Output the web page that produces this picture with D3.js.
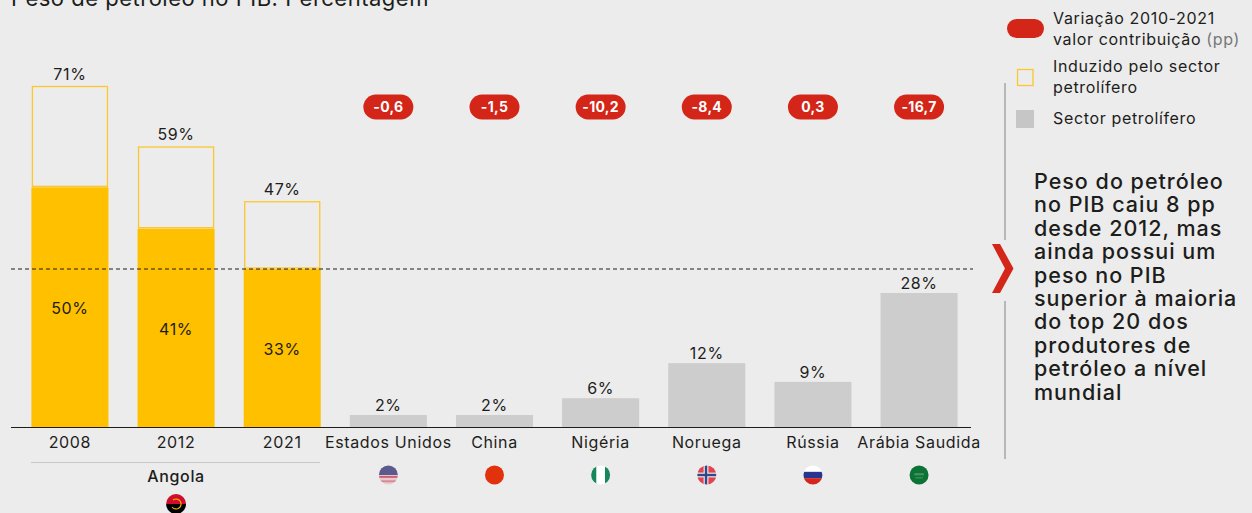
<!DOCTYPE html>
<html lang="pt">
<head>
<meta charset="utf-8">
<script src="https://cdn.jsdelivr.net/npm/d3@7"></script>
<style>
  html, body { margin: 0; padding: 0; background: #ececec; overflow: hidden; }
  svg { display: block; }
  text { font-family: Inter, sans-serif; fill: #1d1d1b; font-size: 16px; letter-spacing: 0.65px; }
</style>
</head>
<body>
<svg id="chart" width="1252" height="513"></svg>
<script>
const categories = ['2008', '2012', '2021', 'Estados Unidos', 'China', 'Nigéria', 'Noruega', 'Rússia', 'Arábia Saudida'];
const sectorValues = [50, 41.4, 33, 2.6, 2.6, 6.1, 13.4, 9.5, 28];
const sectorLabels = ['50%', '41%', '33%', '2%', '2%', '6%', '12%', '9%', '28%'];
const totalValues = [71, 58.4, 47];
const totalLabels = ['71%', '59%', '47%'];
const changeCountries = ['Estados Unidos', 'China', 'Nigéria', 'Noruega', 'Rússia', 'Arábia Saudida'];
const changeLabels = ['-0,6', '-1,5', '-10,2', '-8,4', '0,3', '-16,7'];
const referenceValue = 33;
const calloutLines = ['Peso do petróleo', 'no PIB caiu 8 pp', 'desde 2012, mas', 'ainda possui um', 'peso no PIB', 'superior à maioria', 'do top 20 dos', 'produtores de', 'petróleo a nível', 'mundial'];

const YELLOW = '#ffc000', GREY = '#cdcdcd', RED = '#d32518';
const svg = d3.select('#chart');
const defs = svg.append('defs');
defs.append('filter').attr('id', 'soft').append('feGaussianBlur').attr('stdDeviation', 0.45);

const x = d3.scaleBand().domain(categories).range([31.4, 957.6]).paddingInner(0.274).paddingOuter(0);
const y = d3.scaleLinear().domain([0, 71]).range([427.5, 86.5]);
const isAngola = (_, i) => i < 3;

/* ---- title (cut by the top edge, as in the source) ---- */
svg.append('text').attr('x', 11).attr('y', 6)
  .style('font-size', '22px').style('letter-spacing', '0.5px').text('Peso de petróleo no PIB. Percentagem');

/* ---- bars ---- */
svg.append('g').selectAll('rect').data(sectorValues).join('rect')
  .attr('x', (_, i) => x(categories[i]))
  .attr('y', (d) => y(d))
  .attr('width', x.bandwidth())
  .attr('height', (d) => y(0) - y(d))
  .attr('fill', (d, i) => isAngola(d, i) ? YELLOW : GREY);

// Induced part: outlined box sitting on the sector bar
svg.append('g').selectAll('rect').data(totalValues).join('rect')
  .attr('x', (_, i) => x(categories[i]) + 1)
  .attr('y', (d) => y(d))
  .attr('width', x.bandwidth() - 2)
  .attr('height', (d, i) => y(sectorValues[i]) - y(d) - 1)
  .attr('fill', 'none')
  .attr('stroke', '#fcc72c')
  .attr('stroke-width', 1.3);

/* ---- value labels ---- */
svg.append('g').selectAll('text').data(totalLabels).join('text')
  .attr('x', (_, i) => x(categories[i]) + x.bandwidth() / 2)
  .attr('y', (_, i) => y(totalValues[i]) - 7)
  .attr('text-anchor', 'middle').text((d) => d);

svg.append('g').selectAll('text').data(sectorLabels).join('text')
  .attr('x', (_, i) => x(categories[i]) + x.bandwidth() / 2)
  .attr('y', (_, i) => i < 3 ? (y(sectorValues[i]) + y(0)) / 2 + 7 : y(sectorValues[i]) - 4)
  .attr('text-anchor', 'middle').text((d) => d);

/* ---- baseline and reference line ---- */
svg.append('line').attr('x1', 11).attr('x2', 971).attr('y1', y(0)).attr('y2', y(0))
  .attr('stroke', '#1d1d1b').attr('stroke-width', 1);
svg.append('line').attr('x1', 11).attr('x2', 973).attr('y1', y(referenceValue)).attr('y2', y(referenceValue))
  .attr('stroke', '#1d1d1b').attr('stroke-width', 1).attr('stroke-dasharray', '4 3');

/* ---- category labels ---- */
svg.append('g').selectAll('text').data(categories).join('text')
  .attr('x', (d) => x(d) + x.bandwidth() / 2)
  .attr('y', 448)
  .attr('text-anchor', 'middle').text((d) => d);

svg.append('line').attr('x1', 31).attr('x2', 320).attr('y1', 462.5).attr('y2', 462.5)
  .attr('stroke', '#c8c8c8');
svg.append('text').attr('x', x('2012') + x.bandwidth() / 2).attr('y', 482)
  .attr('text-anchor', 'middle').style('font-weight', 500).text('Angola');

/* ---- change pills ---- */
const pills = svg.append('g').selectAll('g').data(changeLabels).join('g')
  .attr('transform', (_, i) => `translate(${x(changeCountries[i]) + x.bandwidth() / 2},107)`);
pills.append('rect').attr('x', -25).attr('y', -12.5).attr('width', 50).attr('height', 25).attr('rx', 12.5).attr('fill', RED);
pills.append('text').attr('y', 5).attr('text-anchor', 'middle')
  .style('font-size', '14px').style('letter-spacing', '0.3px').style('font-weight', 700).style('fill', '#fff').text((d) => d);

/* ---- flags ---- */
function flag(id, cx, cy, r, paint) {
  defs.append('clipPath').attr('id', id).append('circle').attr('cx', r).attr('cy', r).attr('r', r);
  const g = svg.append('g').attr('transform', `translate(${cx - r},${cy - r})`).attr('clip-path', `url(#${id})`);
  const inner = g.append('g').attr('filter', 'url(#soft)');
  const band = (bx, by, w, h, c) => inner.append('rect').attr('x', bx).attr('y', by).attr('width', w).attr('height', h).attr('fill', c);
  paint(band, inner, r * 2);
}
const flagX = (name) => x(name) + x.bandwidth() / 2;

flag('f-ao', flagX('2012'), 504, 10, (b, g, s) => {
  b(-2, -2, s + 4, s / 2 + 2, '#d0112b'); b(-2, s / 2, s + 4, s / 2 + 2, '#000');
  g.append('path').attr('d', 'M7 6A5 5 0 1 1 6 13').attr('fill', 'none').attr('stroke', '#f5b400').attr('stroke-width', 1.2);
});
flag('f-us', flagX('Estados Unidos'), 475, 9.5, (b, g, s) => {
  b(-2, -2, s + 4, s + 4, '#e9c9cf'); b(-2, -2, s + 4, s * 0.5 + 2, '#5a5a8e');
  b(-2, s * 0.55, s + 4, s * 0.1, '#c9606f'); b(-2, s * 0.78, s + 4, s * 0.1, '#d48a96');
});
flag('f-cn', flagX('China'), 475, 9.5, (b, g, s) => b(-2, -2, s + 4, s + 4, '#e2300f'));
flag('f-ng', flagX('Nigéria'), 475, 9.5, (b, g, s) => {
  b(-2, -2, s + 4, s + 4, '#fff'); b(-2, -2, s * 0.27 + 2, s + 4, '#16875a'); b(s * 0.73, -2, s * 0.27 + 2, s + 4, '#16875a');
});
flag('f-no', flagX('Noruega'), 475, 9.5, (b, g, s) => {
  b(-2, -2, s + 4, s + 4, '#e3434f');
  b(s * 0.33, -2, s * 0.26, s + 4, '#e6d6dc'); b(-2, s * 0.37, s + 4, s * 0.26, '#e6d6dc');
  b(s * 0.4, -2, s * 0.12, s + 4, '#2d4a8c'); b(-2, s * 0.44, s + 4, s * 0.12, '#2d4a8c');
});
flag('f-ru', flagX('Rússia'), 475, 9.5, (b, g, s) => {
  b(-2, -2, s + 4, s / 3 + 2, '#fff'); b(-2, s / 3, s + 4, s / 3, '#27358f'); b(-2, 2 * s / 3, s + 4, s / 3 + 2, '#d3281c');
});
flag('f-sa', flagX('Arábia Saudida'), 475, 9.5, (b, g, s) => {
  b(-2, -2, s + 4, s + 4, '#0b7236'); b(s * 0.25, s * 0.4, s * 0.5, s * 0.12, '#3f9461'); b(s * 0.3, s * 0.62, s * 0.4, s * 0.06, '#3f9461');
});

/* ---- legend ---- */
svg.append('rect').attr('x', 1007).attr('y', 19).attr('width', 37).attr('height', 19).attr('rx', 9.5).attr('fill', RED);
svg.append('rect').attr('x', 1017.5).attr('y', 69.5).attr('width', 15.5).attr('height', 16).attr('fill', 'none').attr('stroke', '#fcc72c').attr('stroke-width', 1.3);
svg.append('rect').attr('x', 1016).attr('y', 110).attr('width', 18).attr('height', 18).attr('fill', '#c6c6c6');

const leg = (ty, str) => svg.append('text').attr('x', 1053).attr('y', ty).text(str);
leg(24, 'Variação 2010-2021');
leg(45, 'valor contribuição').append('tspan').style('fill', '#777').text(' (pp)');
leg(72, 'Induzido pelo sector');
leg(93, 'petrolífero');
leg(124, 'Sector petrolífero');

/* ---- callout ---- */
svg.append('path').attr('d', 'M1005 83V240M1005 301V459').attr('stroke', '#9b9b9b').attr('stroke-width', 1.3).attr('fill', 'none');
svg.append('path').attr('d', 'M992 244H1000L1013.5 268.5L1000 293H992L1005 268.5Z').attr('fill', RED);
svg.append('g').selectAll('text').data(calloutLines).join('text')
  .attr('x', 1034)
  .attr('y', (_, i) => 189 + i * 23.4)
  .style('font-size', '21.5px').style('letter-spacing', '1px').style('font-weight', 500).text((d) => d);
</script>
</body>
</html>
